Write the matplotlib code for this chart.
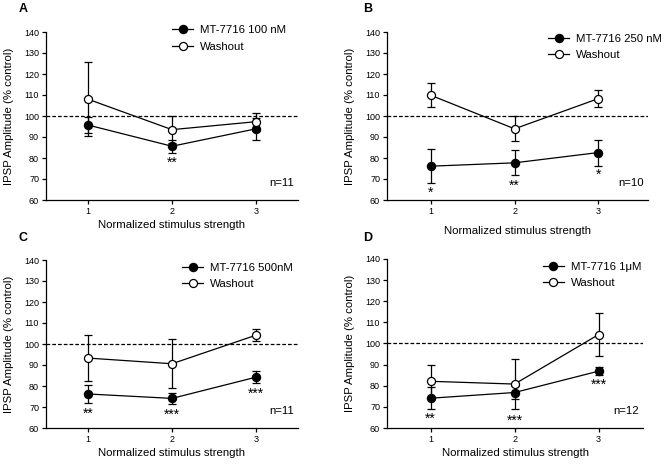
import matplotlib
matplotlib.use("Agg")
import matplotlib.pyplot as plt

plt.rcParams['font.family'] = ['Liberation Sans', 'DejaVu Sans']

# ---------------- data ----------------
x = [1, 2, 3]
panel_letters = ['A', 'B', 'C', 'D']
drug_labels = ['MT-7716 100 nM', 'MT-7716 250 nM', 'MT-7716 500nM', 'MT-7716 1\u03bcM']
washout_label = 'Washout'
n_labels = ['n=11', 'n=10', 'n=11', 'n=12']

drug_A = [95.7, 85.6, 93.9]
drug_A_err = [4.0, 3.0, 5.1]
wash_A = [108.0, 93.5, 97.3]
wash_A_err = [17.7, 6.5, 4.3]

drug_B = [76.1, 77.7, 82.6]
drug_B_err = [8.2, 5.9, 6.2]
wash_B = [109.9, 93.9, 108.3]
wash_B_err = [5.8, 5.9, 4.2]

drug_C = [76.2, 74.1, 84.2]
drug_C_err = [4.5, 2.8, 2.8]
wash_C = [93.3, 90.6, 104.2]
wash_C_err = [11.0, 11.7, 2.9]

drug_D = [74.1, 76.8, 86.9]
drug_D_err = [5.2, 3.0, 1.9]
wash_D = [82.1, 80.8, 104.2]
wash_D_err = [7.8, 11.7, 10.3]

stars_A = ['', '**', '']
stars_A_y = [0, 78.5, 0]
stars_B = ['*', '**', '*']
stars_B_y = [64.4, 68.0, 72.8]
stars_C = ['**', '***', '***']
stars_C_y = [67.7, 67.4, 77.3]
stars_D = ['**', '***', '***']
stars_D_y = [65.6, 64.5, 81.3]

baseline = 100
yticks = [60, 70, 80, 90, 100, 110, 120, 130, 140]
xticks = [1, 2, 3]
xlabel = 'Normalized stimulus strength'
ylabel = 'IPSP Amplitude (% control)'

drugs = [drug_A, drug_B, drug_C, drug_D]
drug_errs = [drug_A_err, drug_B_err, drug_C_err, drug_D_err]
washes = [wash_A, wash_B, wash_C, wash_D]
wash_errs = [wash_A_err, wash_B_err, wash_C_err, wash_D_err]
stars = [stars_A, stars_B, stars_C, stars_D]
stars_y = [stars_A_y, stars_B_y, stars_C_y, stars_D_y]

# ---------------- layout ----------------
W, H = 669, 465
fig = plt.figure(figsize=(W / 100, H / 100), dpi=100)

# axes pixel boxes: left, right, top, bottom
boxes = [(46, 298, 32, 200), (387, 648, 32, 200),
         (46, 298, 260, 428), (387, 643, 259, 428)]
xlims = [(0.5, 3.5), (0.48, 3.59), (0.5, 3.5), (0.48, 3.53)]
legend_anchor = [(0.5, 1.039), (0.617, 0.991), (0.54, 0.985), (0.609, 0.985)]
letter_pos = [(23, 9), (368, 9), (23, 238), (368, 238)]
xlabel_pad = [3, 7, 3, 3]

FS = 8.2
for i in range(4):
    l, r, t, b = boxes[i]
    ax = fig.add_axes([l / W, (H - b) / H, (r - l) / W, (b - t) / H])
    ax.axhline(baseline, color='black', lw=0.9, ls=(0, (3, 1.6)), zorder=1)
    ax.errorbar(x, drugs[i], yerr=drug_errs[i], fmt='none', ecolor='black',
                elinewidth=0.9, capsize=2.8, capthick=0.9, zorder=2)
    ax.errorbar(x, washes[i], yerr=wash_errs[i], fmt='none', ecolor='black',
                elinewidth=0.9, capsize=2.8, capthick=0.9, zorder=2)
    h1, = ax.plot(x, drugs[i], color='black', lw=0.9, marker='o', ms=5.8,
                  mfc='black', mec='black', zorder=3)
    h2, = ax.plot(x, washes[i], color='black', lw=0.9, marker='o', ms=5.8,
                  mfc='white', mec='black', mew=0.9, zorder=4)
    for xi, s, sy in zip(x, stars[i], stars_y[i]):
        if s:
            ax.text(xi, sy - 1.0, s, ha='center', va='center', fontsize=10)
    ax.text(0.985, 0.1, n_labels[i], transform=ax.transAxes, ha='right',
            va='center', fontsize=FS)
    ax.set_xlim(*xlims[i])
    ax.set_ylim(60, 140)
    ax.set_yticks(yticks)
    ax.set_xticks(xticks)
    ax.spines['top'].set_visible(False)
    ax.spines['right'].set_visible(False)
    ax.spines['left'].set_linewidth(0.9)
    ax.spines['bottom'].set_linewidth(0.9)
    ax.tick_params(axis='both', labelsize=6.5, width=0.9, length=3, pad=2)
    ax.set_xlabel(xlabel, fontsize=FS, labelpad=xlabel_pad[i])
    ax.set_ylabel(ylabel, fontsize=FS, labelpad=7)
    ax.legend([h1, h2], [drug_labels[i], washout_label], loc='upper left',
              bbox_to_anchor=legend_anchor[i], frameon=False, fontsize=FS,
              handlelength=1.85, handletextpad=0.6, borderpad=0,
              borderaxespad=0, labelspacing=0.55)
    fig.text(letter_pos[i][0] / W, 1 - letter_pos[i][1] / H, panel_letters[i],
             fontsize=9, fontweight='bold', ha='center', va='center')

fig.savefig('out.png', dpi=100)
